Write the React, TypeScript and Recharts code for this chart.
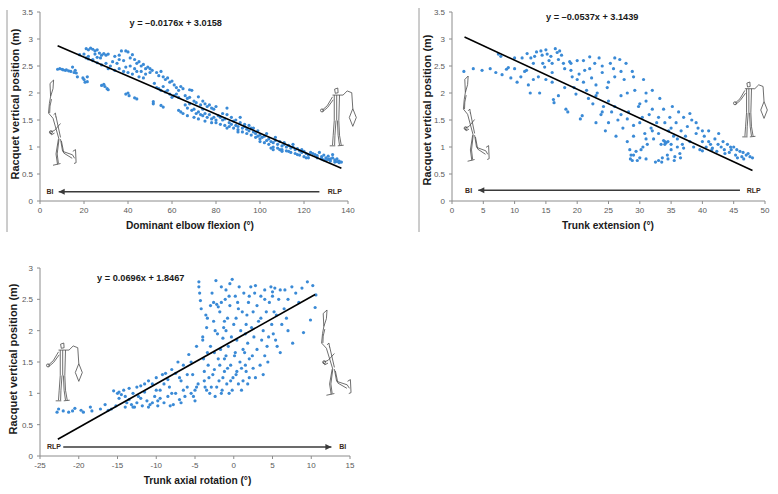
import React from 'react';
import { ScatterChart, Scatter, XAxis, YAxis } from 'recharts';

// ---------- Panel 1: dominant elbow flexion ----------
const elbowPoints: number[][] = [
  [8,2.44],[9,2.45],[10,2.44],[10.5,2.43],[11.5,2.42],[12,2.43],[13,2.41],[14,2.4],[14.8,2.48],[15.5,2.38],[16,2.42],[16.5,2.37],[17,2.3],
  [19.5,2.28],[20,2.25],[21.5,2.3],[21.5,2.21],[20.5,2.2],
  [28,2.14],[29,2.16],[29.5,2.12],[30.5,2.08],[31,2.06],
  [39,1.98],[40,2.0],[40.5,1.95],[43,1.91],[44,1.89],
  [51.5,1.84],[51.5,1.8],[55,1.77],[56,1.74],[63,1.68],[64,1.65],
  [21,2.82],[22,2.8],[23,2.83],[24,2.81],[25,2.78],[26,2.8],[25,2.72],[27,2.74],[28,2.7],[29,2.73],[30,2.7],[31,2.72],[27.5,2.65],[26,2.66],[24,2.62],[22,2.68],[20,2.72],[18,2.71],[21,2.65],[22,2.63],
  [37,2.78],[39,2.78],[40,2.76],[42,2.71],[41,2.65],[43,2.62],[38,2.6],[36,2.62],[35,2.55],[33,2.58],[34,2.68],[36,2.7],[39,2.48],[41,2.5],[44,2.55],[45,2.58],[46,2.5],[47,2.53],[48,2.45],[49,2.48],[50,2.45],[51,2.42],[44,2.4],[42,2.35],[45,2.3],[47,2.28],[48,2.35],[50,2.38],[38,2.4],[40,2.38],[36,2.45],[34,2.42],[32,2.5],[30,2.55],[28,2.52],[26,2.56],[24,2.6],[31,2.45],[43,2.45],[46,2.4],
  [53,2.38],[54,2.32],[55,2.4],[56,2.3],[57,2.25],[58,2.28],[59,2.2],[60,2.22],[61,2.15],[62,2.1],[63,2.05],[64,2.12],[65,2.08],[53,2.1],[55,2.05],[57,2.02],[59,1.98],[60,1.92],[61,1.95],[63,1.92],[52,2.18],[54,2.08],[56,2.12],[58,2.05],[62,1.98],
  [66,1.95],[67,1.9],[68,1.92],[69,2.05],[70,1.85],[71,1.82],[72,1.93],[73,1.78],[74,1.85],[75,1.8],[76,1.75],[77,1.78],[78,1.72],[79,1.7],[80,1.75],[66,1.78],[67,1.72],[68,1.8],[69,1.68],[70,1.7],[71,1.62],[72,1.65],[73,1.6],[74,1.58],[75,1.62],[76,1.55],[77,1.6],[78,1.52],[79,1.55],[80,1.5],[65,1.62],[67,1.58],[70,1.55],[72,1.52],[75,1.48],[78,1.45],[80,1.45],[74,1.7],[68,2.06],
  [81,1.58],[82,1.55],[83,1.5],[84,1.52],[85,1.6],[85,1.72],[86,1.45],[87,1.42],[88,1.48],[89,1.4],[90,1.38],[91,1.55],[92,1.35],[93,1.42],[94,1.33],[95,1.3],[96,1.35],[97,1.28],[98,1.25],[99,1.3],[100,1.22],[82,1.42],[84,1.4],[86,1.38],[88,1.35],[90,1.32],[92,1.28],[94,1.25],[96,1.22],[98,1.18],[100,1.15],[83,1.62],[87,1.55],[89,1.5],[91,1.45],[93,1.38],[95,1.4],[97,1.35],[99,1.2],[85,1.35],[90,1.28],
  [101,1.18],[102,1.2],[103,1.12],[104,1.15],[105,1.1],[106,1.08],[107,1.12],[108,1.05],[109,1.1],[110,1.02],[111,1.05],[112,1.0],[113,1.03],[114,0.98],[115,1.0],[116,0.95],[117,0.97],[118,0.93],[119,0.9],[120,0.92],[121,0.88],[122,0.85],[102,1.08],[104,1.05],[106,1.0],[108,0.98],[110,0.95],[112,0.93],[114,0.9],[116,0.88],[118,0.85],[120,0.82],[122,0.8],[105,0.98],[109,0.95],[113,0.92],[117,0.86],[121,0.8],[103,1.25],[107,1.18],[111,1.08],[115,1.05],[119,0.95],[100,1.1],[106,0.95],[110,0.92],[123,0.9],
  [124,0.88],[125,0.86],[126,0.84],[127,0.9],[128,0.82],[129,0.85],[130,0.8],[131,0.83],[132,0.78],[133,0.8],[134,0.76],[135,0.78],[136,0.74],[137,0.72],[130,0.75],[132,0.74],[134,0.72],[136,0.71],[128,0.78],[126,0.8],[133,0.86],[129,0.76],[135,0.73],[131,0.77],
];
const elbowTrend = [{ x: 8, y: 2.875 }, { x: 137, y: 0.605 }];
const elbowArrow = [{ x: 127, y: 0.17, head: '' }, { x: 8.5, y: 0.17, head: 'left' }];
const elbowTexts = [
  { x: 4.5, y: 0.17, label: 'BI', kind: 'tag' },
  { x: 134, y: 0.17, label: 'RLP', kind: 'tag' },
  { x: 61.7, y: 3.29, label: 'y = –0.0176x + 3.0158', kind: 'eq' },
];
const elbowXTicks = [0, 20, 40, 60, 80, 100, 120, 140];
const heightTicks35 = [0, 0.5, 1, 1.5, 2, 2.5, 3, 3.5];

// ---------- Panel 2: trunk extension ----------
const extensionPoints: number[][] = [
  [1.9,2.4],[3.4,2.45],[4.8,2.42],[6.1,2.45],[7,2.38],[7.4,2.72],[7.8,2.68],[8,2.34],[8.7,2.44],[9,2.47],[9.4,2.28],[10,2.65],[10.4,2.2],[11.2,2.65],[11.6,2.4],[11.9,2.42],[12.2,2.15],[12,2.73],[12.6,2.65],[13,2.25],[13.2,2.68],[13.5,2.76],[13.8,2.3],[14,2.0],[14.2,2.78],[14.4,2.7],[14.5,2.55],[14.8,2.48],[15,2.8],[15.2,2.72],[15.5,2.6],[15.8,2.68],[16,2.38],[16.2,1.88],[16.3,1.82],[16.5,2.82],[16.8,2.75],[17,2.62],[17.2,2.78],[17.5,2.7],[17.8,2.55],[18,2.45],[18.2,1.7],[18.5,1.65],[18.8,2.58],[19,2.42],[19.2,2.3],[19.5,2.1],[19.8,1.98],[20,2.6],[20.3,2.35],[20.5,1.52],[20.8,1.58],[21,2.2],[21.2,2.42],[21.5,2.05],[21.8,1.9],[22,2.67],[22.3,2.28],[22.5,1.8],[22.8,2.55],[23,1.45],[23.2,2.0],[23.5,2.65],[23.8,1.6],[24,2.38],[24.2,1.75],[24.5,1.3],[24.8,2.1],[25,1.85],[25.3,2.55],[25.5,1.65],[25.8,2.45],[26,2.65],[26.2,1.2],[26.5,1.5],[26.8,2.62],[27,1.95],[27.3,1.35],[27.5,2.25],[27.8,2.55],[28,1.1],[28.2,1.65],[28.4,0.95],[28.5,0.78],[28.6,0.85],[28.8,2.4],[29,1.4],[29.2,2.05],[29.4,0.92],[29.6,0.75],[29.8,1.75],[30,0.8],[30.2,0.95],[30.4,1.55],[30.6,2.25],[30.8,1.25],[31,1.85],[31.2,1.05],[31.5,1.6],[31.8,1.35],[32,2.05],[32.2,1.15],[32.5,0.72],[32.7,1.45],[33,0.75],[33.2,1.9],[33.4,1.05],[33.6,0.8],[33.8,1.7],[34,1.1],[34.2,1.08],[34.4,0.85],[34.6,1.3],[34.8,1.55],[35,0.95],[35.2,1.75],[35.4,1.2],[35.6,0.82],[35.8,1.45],[36,1.0],[36.2,1.65],[36.4,0.88],[36.6,1.3],[36.8,1.05],[37,1.55],[37.3,1.2],[37.6,1.38],[38,1.1],[38.3,1.5],[38.6,1.0],[39,1.25],[39.3,1.35],[39.6,0.95],[40,1.1],[40.3,1.2],[40.6,1.0],[41,1.3],[41.3,1.05],[41.6,0.98],[42,1.15],[42.3,0.92],[42.6,1.25],[43,1.0],[43.3,1.1],[43.6,0.88],[44,1.05],[44.3,0.9],[44.6,0.95],[45,1.0],[45.3,0.85],[45.6,0.8],[46,0.92],[46.3,0.82],[46.6,0.78],[47,0.85],[47.3,0.88],[47.6,0.82],[48,0.8],
  [23,1.95],[24,1.65],[25,1.45],[26,1.75],[27,1.6],[28,1.52],[29,1.2],[30,1.45],[31,1.15],[32,1.3],[33,1.25],[34,1.45],[35,1.35],[36,1.15],[37,0.98],[33,1.55],[30,1.8],[31,2.0],[26,2.3],[25,2.2],[24,2.5],[22,2.45],[20,2.25],[18,2.1],[17,1.95],[16,2.2],[19,2.55],[21,2.6],[23,2.15],[27,2.4],[29,2.3],[28,2.0],[32,1.7],[30.5,1.0],[31,0.78],[29,0.85],[28.8,0.75],[33.5,0.72],[34.5,0.78],[35.5,0.75],[36.5,0.8],[34,1.05],[34.5,1.1],[35,1.05],[33.8,1.12],[38,1.62],[39,1.45],[40,1.3],[41,1.1],[42.5,1.05],[44.5,1.0],[45.5,0.95],[46.5,0.9],[40,0.93],[41.5,0.95],[43.5,0.95],[13,2.55],[11,2.3],[10,2.45],[15,2.25],[12.5,2.0],[16,2.55],
];
const extensionTrend = [{ x: 2, y: 3.036 }, { x: 48, y: 0.566 }];
const extensionArrow = [{ x: 46, y: 0.2, head: '' }, { x: 4.2, y: 0.2, head: 'left' }];
const extensionTexts = [
  { x: 2.65, y: 0.2, label: 'BI', kind: 'tag' },
  { x: 48.2, y: 0.2, label: 'RLP', kind: 'tag' },
  { x: 22.4, y: 3.41, label: 'y = –0.0537x + 3.1439', kind: 'eq' },
];
const extensionXTicks = [0, 5, 10, 15, 20, 25, 30, 35, 40, 45, 50];

// ---------- Panel 3: trunk axial rotation ----------
const rotationPoints: number[][] = [
  [-22.8,0.7],[-22.6,0.75],[-22,0.72],[-21.3,0.7],[-20.8,0.72],[-20.5,0.76],[-19.7,0.73],[-19.4,0.7],[-18.5,0.78],[-18.3,0.72],[-17.2,0.75],[-16.6,0.82],[-16.2,0.73],[-15.8,0.75],
  [-15.5,1.04],[-15,1.0],[-14.8,1.02],[-14.5,0.98],[-14.2,1.05],[-14,0.78],[-13.8,0.85],[-13.5,1.08],[-13.2,0.82],[-13,1.0],[-12.8,0.78],[-12.5,1.1],[-12.3,0.95],[-12,1.12],[-11.8,0.8],[-11.5,1.02],[-11.2,0.88],[-11,1.2],[-10.8,0.82],[-10.5,1.15],[-10.2,0.95],[-10,1.25],[-9.8,0.8],[-9.5,1.05],[-9.2,1.3],[-9,0.85],[-8.8,1.32],[-8.5,0.95],[-8.3,1.1],[-8,1.38],[-7.8,0.82],[-7.5,1.0],[-7.2,1.5],[-7,0.9],[-6.8,1.2],[-6.5,1.45],[-6.3,0.95],[-6,1.1],[-5.8,1.62],[-5.5,1.0],[-5.3,1.3],[-5,0.88],[-4.8,1.75],[-4.6,1.15],
  [-14.8,0.92],[-13.5,0.9],[-12,0.92],[-11,0.78],[-10,1.05],[-9,1.15],[-8,1.0],[-7,1.25],[-6,1.3],[-5,1.05],[-10.5,0.85],[-8.5,1.22],[-7.5,1.32],[-6.5,1.05],[-12.5,0.85],[-15.2,0.8],[-14,0.95],[-9.5,0.92],[-11.5,1.15],[-5.5,1.5],[-13,0.78],[-9.8,0.88],[-8.2,0.8],[-6.8,0.85],[-5.2,0.95],[-4.8,1.1],
  [-4.5,2.78],[-4.5,2.7],[-4.4,2.6],[-4.3,2.48],[-4.2,2.35],[-4,1.9],[-4,1.85],[-3.9,1.55],[-3.8,1.35],[-3.8,1.2],[-3.7,1.1],[-3.6,2.25],[-3.5,2.05],[-3.4,1.65],[-3.3,1.45],[-3.2,1.25],[-3.1,1.0],[-3,2.4],[-3,1.75],
  [-2.8,2.6],[-2.6,2.15],[-2.5,1.38],[-2.4,0.95],[-2.3,2.8],[-2.2,2.42],[-2.1,1.95],[-2,1.55],[-2,2.38],[-1.9,1.2],[-1.8,2.3],[-1.7,1.7],[-1.6,2.7],[-1.5,1.05],[-1.4,1.88],[-1.3,2.05],[-1.2,1.35],[-1.1,2.5],[-1,1.6],[-1,2.65],[-0.9,1.15],[-0.8,2.2],[-0.7,1.75],[-0.6,1.0],[-0.5,2.4],[-0.5,2.75],[-0.4,1.45],[-0.3,1.9],[-0.2,2.82],[-0.1,1.25],[0,2.1],[0.1,1.6],[0.2,2.55],[0.3,1.3],[0.4,1.85],[0.5,2.45],[0.6,1.15],[0.7,2.7],[0.8,1.5],[0.9,2.0],[1,1.4],[1.1,2.3],[1.2,1.2],[1.3,2.6],[1.4,1.65],[1.5,1.95],[1.6,1.35],[1.7,2.25],[1.8,1.8],[1.9,2.45],[2,1.55],
  [2.2,2.7],[2.3,2.05],[2.4,1.6],[2.5,2.3],[2.6,1.9],[2.8,2.72],[3,1.7],[3,2.4],[3.2,2.15],[3.4,1.45],[3.5,2.55],[3.6,1.85],[3.8,2.0],[4,2.65],[4,1.6],[4.2,2.3],[4.4,1.5],[4.5,1.9],[4.6,2.45],[4.8,2.7],[4.9,2.1],[5,2.62],[5,2.55],[5.1,1.95],[5.2,2.3],[5.3,2.68],[5.4,1.85],[5.5,2.25],[5.8,2.5],[6,1.65],[6,2.65],[6.2,2.1],[6.5,2.35],[6.6,2.65],[7,2.0],[7,2.5],[7.5,2.7],[7.6,1.8],[8,2.6],[8.4,2.45],[8.8,2.68],[9,1.97],[9.5,2.78],[9.9,2.17],[10.2,2.72],[10.5,2.37],[10.6,2.57],
  [-2.7,1.3],[-2.2,1.1],[-1.8,1.45],[-1.4,1.25],[-0.8,1.4],[-0.2,1.05],[0.4,1.35],[1,1.05],[1.5,1.45],[2,1.25],[2.5,1.4],[-2.5,1.65],[-1.2,1.55],[0.2,1.65],[1.2,1.7],[-3.5,1.05],[-2.9,1.1],[-1.6,2.45],[-0.6,2.55],[0.6,2.35],[1.6,2.1],[-2.4,2.0],[-1.2,2.15],[0.3,2.2],[3.5,2.2],[4.3,1.75],[5.6,1.75],[6.8,2.2],[4,2.5],[2,2.55],[2.7,2.6],[-3.4,2.2],[-2.6,2.45],[-1,2.0],[3.8,1.3],[2.8,1.25],[1.8,1.15],[-0.4,1.2],[-1.6,1.0],
];
const rotationTrend = [{ x: -22.7, y: 0.267 }, { x: 10.5, y: 2.577 }];
const rotationArrow = [{ x: -22, y: 0.145, head: '' }, { x: 12.6, y: 0.145, head: 'right' }];
const rotationTexts = [
  { x: -23.2, y: 0.145, label: 'RLP', kind: 'tag' },
  { x: 14.05, y: 0.145, label: 'BI', kind: 'tag' },
  { x: -12, y: 2.84, label: 'y = 0.0696x + 1.8467', kind: 'eq' },
];
const rotationXTicks = [-25, -20, -15, -10, -5, 0, 5, 10, 15];
const heightTicks3 = [0, 0.5, 1, 1.5, 2, 2.5, 3];

const toXY = (pts: number[][]) => pts.map(([x, y]) => ({ x, y }));

const FONT = '"Liberation Sans", Arial, sans-serif';
const DOT = '#3a8ad6';
const AXIS = '#8c8c8c';

const Dot = (p: any) => <circle cx={p.cx} cy={p.cy} r={1.6} fill={DOT} />;
const Empty = () => <g />;
const ArrowHead = (p: any) => {
  const head = p.payload?.head ?? p.head;
  if (!head) return <g />;
  const d = head === 'left' ? -1 : 1;
  const { cx, cy } = p;
  return <polygon points={`${cx},${cy} ${cx - d * 6},${cy - 3} ${cx - d * 6},${cy + 3}`} fill="#3a3a3a" />;
};
const TextMark = (p: any) => {
  const pl = p.payload ?? p;
  const isEq = pl.kind === 'eq';
  return (
    <text x={p.cx} y={p.cy} textAnchor="middle" dominantBaseline="central" fontFamily={FONT}
      fontWeight="bold" fontSize={isEq ? 9.2 : 7} fill={isEq ? '#1a1a1a' : '#3b2a20'}>
      {pl.label}
    </text>
  );
};

type PanelProps = {
  left: number; top: number; width: number; height: number;
  margin: { top: number; right: number; bottom: number; left: number };
  points: number[][]; trend: any[]; arrow: any[]; texts: any[];
  xDomain: [number, number]; xTicks: number[]; yDomain: [number, number]; yTicks: number[];
};

function Panel(pr: PanelProps) {
  const tick = { fontSize: 8, fill: '#595959', fontFamily: FONT };
  return (
    <div style={{ position: 'absolute', left: pr.left, top: pr.top }}>
      <ScatterChart width={pr.width} height={pr.height} margin={pr.margin}>
        <XAxis type="number" dataKey="x" domain={pr.xDomain} ticks={pr.xTicks} allowDataOverflow
          height={30} tick={tick} tickSize={3} tickMargin={3}
          axisLine={{ stroke: AXIS }} tickLine={{ stroke: AXIS }} interval={0} />
        <YAxis type="number" dataKey="y" domain={pr.yDomain} ticks={pr.yTicks} allowDataOverflow
          width={30} tick={tick} tickSize={3} tickMargin={4}
          axisLine={{ stroke: AXIS }} tickLine={{ stroke: AXIS }} interval={0} />
        <Scatter data={toXY(pr.points)} shape={Dot} isAnimationActive={false} />
        <Scatter data={pr.trend} shape={Empty} line={{ stroke: '#000', strokeWidth: 1.6 }} isAnimationActive={false} />
        <Scatter data={pr.arrow} shape={ArrowHead} line={{ stroke: '#3a3a3a', strokeWidth: 1.5 }} isAnimationActive={false} />
        <Scatter data={pr.texts} shape={TextMark} isAnimationActive={false} />
      </ScatterChart>
    </div>
  );
}

// simplified stick figures (decorative illustrations), normalized coordinates
const biFigure: number[][][] = [
  [[0.1,0.04],[0.22,0.0],[0.2,0.1],[0.12,0.19],[0.1,0.04]],
  [[0.12,0.19],[0.08,0.27],[0.05,0.38],[0.2,0.44]],
  [[0.15,0.22],[0.1,0.3],[0.09,0.38]],
  [[0.2,0.44],[0.4,0.68]],
  [[0.3,0.42],[0.45,0.66]],
  [[0.22,0.4],[0.28,0.38],[0.3,0.43]],
  [[0.45,0.5],[0.25,0.58],[0.1,0.6],[0.15,0.63],[0.25,0.61]],
  [[0.38,0.68],[0.3,0.85],[0.35,0.97]],
  [[0.4,0.68],[0.34,0.85],[0.38,0.96]],
  [[0.2,0.98],[0.45,0.96]],
  [[0.45,0.68],[0.52,0.82],[0.85,0.86],[0.92,0.9]],
  [[0.48,0.7],[0.56,0.84],[0.84,0.9]],
  [[0.86,0.82],[0.95,0.8],[0.97,0.95],[0.9,0.96]],
];
const rlpFigure: number[][][] = [
  [[0.36,0.02],[0.45,0.0],[0.46,0.08],[0.38,0.09],[0.36,0.02]],
  [[0.3,0.12],[0.6,0.12]],
  [[0.3,0.15],[0.15,0.3],[0.0,0.38]],
  [[0.32,0.2],[0.16,0.33],[0.02,0.4]],
  [[0.6,0.12],[0.72,0.05],[0.85,0.08]],
  [[0.85,0.08],[0.88,0.35]],
  [[0.88,0.35],[0.98,0.5],[0.88,0.65],[0.78,0.5],[0.88,0.35]],
  [[0.35,0.12],[0.35,0.55]],
  [[0.5,0.12],[0.48,0.55]],
  [[0.42,0.12],[0.42,0.55]],
  [[0.35,0.55],[0.32,0.8],[0.3,0.97]],
  [[0.4,0.55],[0.37,0.8],[0.36,0.97]],
  [[0.48,0.55],[0.5,0.8],[0.55,0.97]],
  [[0.44,0.55],[0.46,0.8],[0.5,0.97]],
  [[0.22,0.98],[0.38,0.98]],
  [[0.45,0.98],[0.62,0.97]],
];

function Figure({ shape, x, y, w, h }: { shape: number[][][]; x: number; y: number; w: number; h: number }) {
  return (
    <g fill="none" stroke="#4a4a4a" strokeWidth={0.8} strokeLinejoin="round">
      {shape.map((pl, i) => (
        <polyline key={i} points={pl.map(([u, v]) => `${x + u * w},${y + v * h}`).join(' ')} />
      ))}
      <circle cx={x + (shape === rlpFigure ? 0 : 0.13) * w} cy={y + (shape === rlpFigure ? 0.38 : 0.6) * h} r={1.5} />
    </g>
  );
}

const titleStyle = { fontFamily: FONT, fontWeight: 'bold' as const, fill: '#1a1a1a' };

export default function App() {
  return (
    <div style={{ position: 'absolute', left: 0, top: 0, width: 778, height: 494, background: '#fff', overflow: 'hidden' }}>
      <Panel left={0} top={0} width={390} height={240} margin={{ top: 12, right: 42, bottom: 9, left: 10 }}
        points={elbowPoints} trend={elbowTrend} arrow={elbowArrow} texts={elbowTexts}
        xDomain={[0, 140]} xTicks={elbowXTicks} yDomain={[0, 3.5]} yTicks={heightTicks35} />
      <Panel left={400} top={0} width={378} height={240} margin={{ top: 12, right: 13, bottom: 9, left: 22 }}
        points={extensionPoints} trend={extensionTrend} arrow={extensionArrow} texts={extensionTexts}
        xDomain={[0, 50]} xTicks={extensionXTicks} yDomain={[0, 3.5]} yTicks={heightTicks35} />
      <Panel left={0} top={255} width={390} height={239} margin={{ top: 13, right: 40, bottom: 8, left: 10 }}
        points={rotationPoints} trend={rotationTrend} arrow={rotationArrow} texts={rotationTexts}
        xDomain={[-25, 15]} xTicks={rotationXTicks} yDomain={[0, 3]} yTicks={heightTicks3} />
      <svg width={778} height={494} style={{ position: 'absolute', left: 0, top: 0, pointerEvents: 'none' }}>
        <line x1={7} y1={10} x2={7} y2={232} stroke="#9a9a9a" strokeWidth={1} />
        <line x1={419} y1={8} x2={419} y2={232} stroke="#9a9a9a" strokeWidth={1} />
        <Figure shape={biFigure} x={47} y={80} w={30} h={87} />
        <Figure shape={rlpFigure} x={322} y={88} w={35} h={59} />
        <Figure shape={biFigure} x={462} y={76} w={28} h={87} />
        <Figure shape={rlpFigure} x={735} y={82} w={33} h={56} />
        <Figure shape={rlpFigure} x={48} y={343} w={35} h={59} />
        <Figure shape={biFigure} x={320} y={310} w={32} h={87} />
        <text {...titleStyle} fontSize={11} textAnchor="middle" dominantBaseline="central" transform="translate(15,104) rotate(-90)">Racquet vertical position (m)</text>
        <text {...titleStyle} fontSize={11} textAnchor="middle" dominantBaseline="central" transform="translate(427,110) rotate(-90)">Racquet vertical position (m)</text>
        <text {...titleStyle} fontSize={11} textAnchor="middle" dominantBaseline="central" transform="translate(13,359) rotate(-90)">Racquet vertical position (m)</text>
        <text {...titleStyle} fontSize={10.2} textAnchor="middle" dominantBaseline="central" x={190} y={225}>Dominant elbow flexion (°)</text>
        <text {...titleStyle} fontSize={10.2} textAnchor="middle" dominantBaseline="central" x={608} y={225}>Trunk extension (°)</text>
        <text {...titleStyle} fontSize={10.2} textAnchor="middle" dominantBaseline="central" x={197.5} y={480}>Trunk axial rotation (°)</text>
      </svg>
    </div>
  );
}
